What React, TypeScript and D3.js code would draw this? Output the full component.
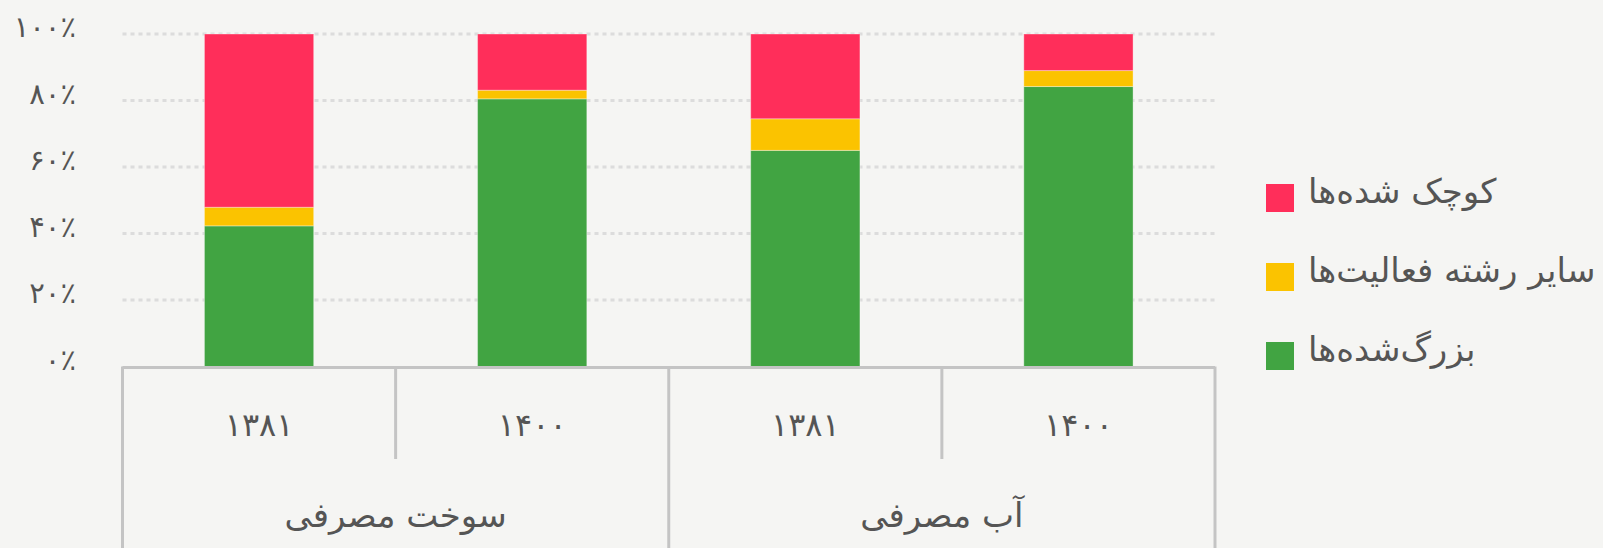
import React from 'react';
import * as d3 from 'd3';

const groups = ['سوخت مصرفی', 'آب مصرفی'];
const years = ['۱۳۸۱', '۱۴۰۰'];
const seriesNames = ['بزرگ‌شده‌ها', 'سایر رشته فعالیت‌ها', 'کوچک شده‌ها'];
const seriesColors = ['#41a442', '#fbc300', '#ff2e5a'];
const grown = [42.3, 80.5, 65, 84.2];
const others = [5.6, 2.6, 9.5, 4.8];
const shrunk = [52.1, 16.9, 25.5, 11];
const yTicks = [0, 20, 40, 60, 80, 100];

const W = 1603;
const H = 548;
const M = { left: 122.5, right: 1215, top: 34, bottom: 366.5 };
const FONT = '"DejaVu Sans", sans-serif';
const TEXT = '#555555';
const AXIS = '#c4c4c4';

const faDigits = (s: string) => s.replace(/\d/g, (d) => '۰۱۲۳۴۵۶۷۸۹'[+d]);

export default function App() {
  const cats = groups.flatMap((g) => years.map((y) => `${g}|${y}`));
  const rows = cats.map((c, i) => ({ cat: c, s0: grown[i], s1: others[i], s2: shrunk[i] }));
  const stack = d3.stack<any>().keys(['s0', 's1', 's2']);
  const stacked = stack(rows);

  const x = d3.scaleBand<string>().domain(cats).range([M.left, M.right]).paddingInner(0).paddingOuter(0);
  const y = d3.scaleLinear().domain([0, 100]).range([M.bottom, M.top]);
  const barW = x.bandwidth() * 0.4;
  const gW = x.bandwidth() * years.length;

  return (
    <svg width={W} height={H} style={{ position: 'absolute', left: 0, top: 0 }} fontFamily={FONT}>
      <rect x={0} y={0} width={W} height={H} fill="#f5f5f3" />
      {yTicks.map((t) => (
        <g key={t}>
          {t > 0 && (
            <line x1={M.left} x2={M.right} y1={y(t)} y2={y(t)} stroke="#dcdcdc" strokeWidth={3} strokeDasharray="4,4" />
          )}
          <text x={76} y={y(t) + 3} textAnchor="end" fontSize={29} fill={TEXT}>
            {faDigits(String(t)) + '٪'}
          </text>
        </g>
      ))}
      {stacked.map((layer, si) => (
        <g key={si} fill={seriesColors[si]}>
          {layer.map((d, i) => (
            <rect
              key={i}
              x={(x(cats[i]) as number) + (x.bandwidth() - barW) / 2}
              y={y(d[1])}
              width={barW}
              height={y(d[0]) - y(d[1])}
              stroke="rgba(255,255,255,0.35)"
              strokeWidth={1}
            />
          ))}
        </g>
      ))}
      {/* x axis */}
      <line x1={M.left} x2={M.right} y1={M.bottom + 1} y2={M.bottom + 1} stroke={AXIS} strokeWidth={3} />
      {cats.map((c, i) => {
        const x0 = x(c) as number;
        const isGroupEdge = i % years.length === 0;
        return (
          <g key={c}>
            <line x1={x0} x2={x0} y1={M.bottom} y2={isGroupEdge ? H : 459} stroke={AXIS} strokeWidth={3} />
            <text x={x0 + x.bandwidth() / 2} y={436} textAnchor="middle" fontSize={32} fill={TEXT}>
              {years[i % years.length]}
            </text>
          </g>
        );
      })}
      <line x1={M.right} x2={M.right} y1={M.bottom} y2={H} stroke={AXIS} strokeWidth={3} />
      {groups.map((g, gi) => (
        <text key={g} x={M.left + gW * gi + gW / 2} y={527} textAnchor="middle" fontSize={34} fill={TEXT}>
          {g}
        </text>
      ))}
      {/* legend */}
      {[2, 1, 0].map((si, k) => (
        <g key={si} transform={`translate(1266, ${184 + k * 79})`}>
          <rect x={0} y={0} width={28} height={28} fill={seriesColors[si]} />
          <text x={42} y={19} fontSize={34} fill={TEXT}>
            {seriesNames[si]}
          </text>
        </g>
      ))}
    </svg>
  );
}
